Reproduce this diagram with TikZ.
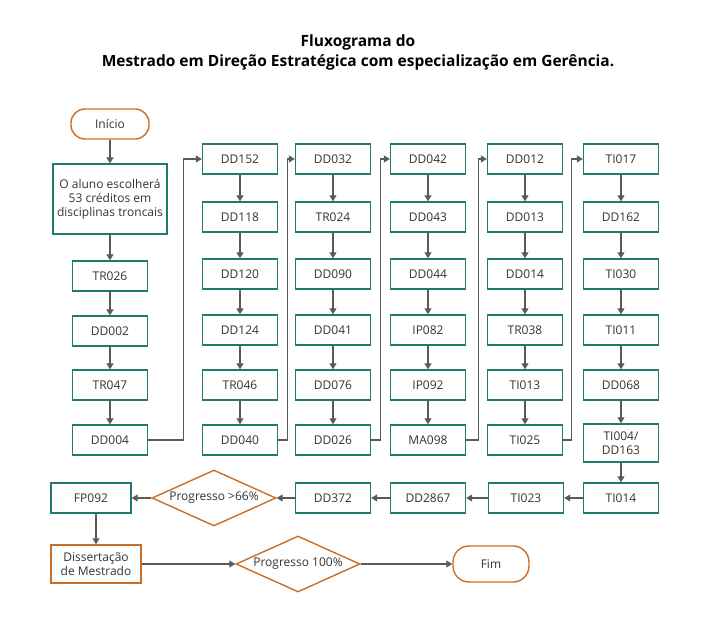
\documentclass[tikz,border=0pt]{standalone}
\usepackage{fontspec}
\setmainfont{Open Sans}
\usetikzlibrary{shapes.geometric,arrows.meta}
\definecolor{teal}{HTML}{1E7A6E}
\definecolor{org}{HTML}{C8702A}
\definecolor{ln}{HTML}{5A5A5A}
\begin{document}
\begin{tikzpicture}[x=1pt,y=-1pt,
 box/.style={draw=teal,line width=1.4pt,minimum width=75pt,minimum height=30pt,font=\fontsize{12}{14}\selectfont,inner sep=1pt,align=center,text=black!80},
 obox/.style={box,draw=org},
 dia/.style={diamond,draw=org,line width=1.4pt,aspect=2.2,inner sep=0pt,minimum width=124pt,minimum height=56pt,font=\fontsize{12}{14}\selectfont,text=black!80},
 ar/.style={draw=ln,line width=1.1pt,-{Triangle[length=6pt,width=7pt]}}]
\useasboundingbox (0,0) rectangle (716,623);
\node[font=\bfseries\fontsize{15.5}{20}\selectfont,align=center] (title) at (358,52) {Fluxograma do\\Mestrado em Direção Estratégica com especialização em Gerência.};
\node[draw=org,line width=1.4pt,rounded corners=14pt,minimum width=78pt,minimum height=30pt,font=\fontsize{12}{14}\selectfont,text=black!80] (ini) at (110,124) {Início};
\node[box,minimum width=114pt,minimum height=70pt] (esc) at (110,199) {O aluno escolherá\\53 créditos em\\disciplinas troncais};
\foreach \n/\x/\y in {TR026/110/276,DD002/110/331,TR047/110/385,DD004/110/440,
 DD152/240/159,DD118/240/217,DD120/240/274,DD124/240/330,TR046/240/385,DD040/240/440,
 DD032/333/159,TR024/333/217,DD090/333/274,DD041/333/330,DD076/333/385,DD026/333/440,
 DD042/428/159,DD043/428/217,DD044/428/274,IP082/428/330,IP092/428/385,MA098/428/440,
 DD012/525/159,DD013/525/217,DD014/525/274,TR038/525/330,TI013/525/385,TI025/525/440,
 TI017/621/159,DD162/621/217,TI030/621/274,TI011/621/330,DD068/621/385,
 TI014/621/498,TI023/526/498,DD2867/428/498,DD372/333/498}
 \node[box] (\n) at (\x,\y) {\n};
\node[box,minimum height=38pt] (TI004) at (621,443) {TI004/\\DD163};
\node[box,minimum width=80pt] (FP092) at (91,498) {FP092};
\node[obox,minimum width=90pt,minimum height=38pt] (dis) at (96,564) {Dissertação\\de Mestrado};
\node[dia] (p66) at (214,498) {Progresso >66\%};
\node[dia] (p100) at (298,564) {Progresso 100\%};
\node[draw=org,line width=1.4pt,rounded corners=16pt,minimum width=76pt,minimum height=36pt,font=\fontsize{12}{14}\selectfont,text=black!80] (fim) at (491,564) {Fim};
\draw[ar] (ini)--(esc); \draw[ar] (esc)--(TR026); \draw[ar] (TR026)--(DD002); \draw[ar] (DD002)--(TR047); \draw[ar] (TR047)--(DD004);
\foreach \a/\b in {DD152/DD118,DD118/DD120,DD120/DD124,DD124/TR046,TR046/DD040,
 DD032/TR024,TR024/DD090,DD090/DD041,DD041/DD076,DD076/DD026,
 DD042/DD043,DD043/DD044,DD044/IP082,IP082/IP092,IP092/MA098,
 DD012/DD013,DD013/DD014,DD014/TR038,TR038/TI013,TI013/TI025,
 TI017/DD162,DD162/TI030,TI030/TI011,TI011/DD068,DD068/TI004,TI004/TI014,
 TI014/TI023,TI023/DD2867,DD2867/DD372,DD372/p66,p66/FP092,dis/p100,p100/fim}
 \draw[ar] (\a)--(\b);
\draw[ar] (FP092.south -| dis.north) -- (dis.north);
\draw[ar] (DD004.east) -- ++(35,0) |- (DD152.west);
\draw[ar] (DD040.east) -- ++(9,0) |- (DD032.west);
\draw[ar] (DD026.east) -- ++(9,0) |- (DD042.west);
\draw[ar] (MA098.east) -- ++(12,0) |- (DD012.west);
\draw[ar] (TI025.east) -- ++(8,0) |- (TI017.west);
\end{tikzpicture}
\end{document}
